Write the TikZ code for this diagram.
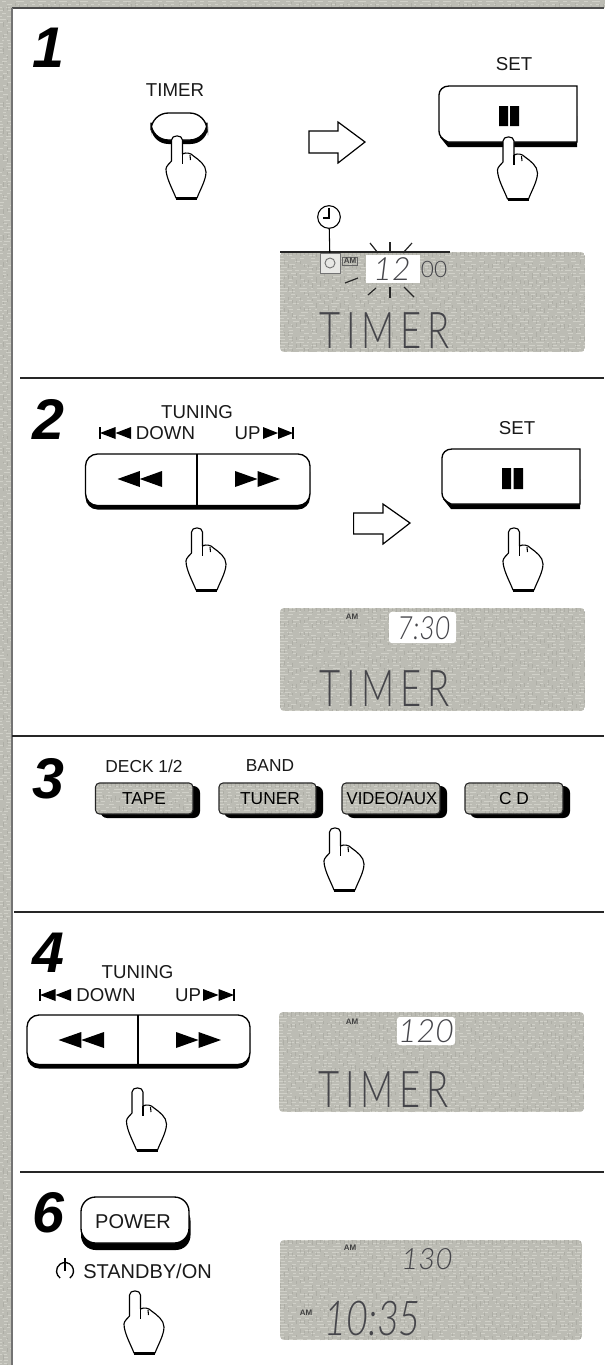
\documentclass[tikz,border=0pt]{standalone}
\usepackage{fontspec}
\setmainfont{Liberation Sans}
\newfontfamily\lcdfont{Lato Light}
\definecolor{paper}{HTML}{BCBCB4}
\definecolor{grain}{HTML}{E4E4DC}
\definecolor{grime}{HTML}{8E8E88}
\definecolor{lcdink}{HTML}{45454A}
\pgfmathsetseed{7}
\newcommand{\lcdword}{\scalebox{0.72}[1]{T\kern6pt I\kern6pt M\kern6pt E\kern6pt R}}
\tikzset{
  lbl/.style={inner sep=0pt,font=\fontsize{14}{14}\selectfont,text=black!90},
  stepnum/.style={inner sep=0pt,font=\fontsize{43}{43}\selectfont\bfseries\itshape},
  rule/.style={line width=0.9pt,black!85},
  btnface/.style={draw=black,fill=white,line width=1pt},
  tri/.style={fill=black,draw=none},
  bigarrow/.style={draw=black,fill=white,line width=0.9pt,line join=miter},
  ray/.style={line width=0.9pt,black!85},
  lcdtxt/.style={inner sep=0pt,text=lcdink},
  amtxt/.style={inner sep=0pt,text=black!75,font=\fontsize{6}{6}\selectfont\bfseries},
  keytxt/.style={inner sep=0pt,font=\fontsize{13}{13}\selectfont,text=black},
  hand/.pic={
    \path[draw=black,fill=white,line width=0.85pt,line join=round]
      (-5.5,4) .. controls (-5.5,-1.5) and (5.5,-1.5) .. (5.5,4)
      -- (5.5,18) .. controls (9,16) and (14,17) .. (16.5,20)
      .. controls (22,24) and (29,29) .. (29,36)
      .. controls (29,44) and (23,54) .. (20,62)
      -- (-1,62) .. controls (-4,54) and (-11,42) .. (-11,33)
      .. controls (-11,30) and (-7,27) .. (-5.5,25) -- cycle;
    \draw[line width=0.8pt] (5.5,18) -- (5.5,28);
    \draw[line width=0.8pt] (13,19) -- (13.5,24);
    \draw[line width=2pt] (-1,62.3) -- (20,62.3);
  }
}
\newcommand{\texturebox}[4]{%
  \begin{scope}
    \clip[rounded corners=3] (#1,#2) rectangle (#3,#4);
    \fill[paper] (#1,#2) rectangle (#3,#4);
    \pgfmathtruncatemacro{\hh}{#4-#2}
    \pgfmathtruncatemacro{\ww}{#3-#1}
    \foreach \yy in {0,3,...,\hh} {
      \pgfmathsetmacro{\da}{1+random(5)}
      \pgfmathsetmacro{\db}{1+random(4)}
      \pgfmathsetmacro{\dc}{1+random(3)}
      \pgfmathsetmacro{\dd}{1+random(7)}
      \draw[grain,opacity=.5,line width=0.7pt,dash pattern=on \da pt off \db pt on \dc pt off \dd pt] (#1,#2+\yy) -- (#3,#2+\yy);
    }
    \foreach \xx in {0,4,...,\ww} {
      \pgfmathsetmacro{\da}{1+random(3)}
      \pgfmathsetmacro{\db}{2+random(6)}
      \pgfmathsetmacro{\dc}{1+random(2)}
      \pgfmathsetmacro{\dd}{3+random(7)}
      \draw[grime,opacity=.3,line width=0.6pt,dash pattern=on \da pt off \db pt on \dc pt off \dd pt] (#1+\xx,#2) -- (#1+\xx,#4);
    }
  \end{scope}
}
\newcommand{\backtri}[4]{%
  \pgfmathsetmacro{\xm}{(#1+#2)/2}
  \fill[tri] (#1,{(#3+#4)/2}) -- (\xm,#3) -- (\xm,#4) -- cycle;
  \fill[tri] (\xm,{(#3+#4)/2}) -- (#2,#3) -- (#2,#4) -- cycle;
}
\newcommand{\fwdtri}[4]{%
  \pgfmathsetmacro{\xm}{(#1+#2)/2}
  \fill[tri] (#1,#3) -- (\xm,{(#3+#4)/2}) -- (#1,#4) -- cycle;
  \fill[tri] (\xm,#3) -- (#2,{(#3+#4)/2}) -- (\xm,#4) -- cycle;
}
\newcommand{\seekleft}[3]{%
  \draw[line width=1.1pt] (#1,#2-6) -- (#1,#2+6);
  \backtri{#1}{#1+#3}{#2-6}{#2+6}
}
\newcommand{\seekright}[3]{%
  \fwdtri{#1}{#1+#3}{#2-6}{#2+6}
  \draw[line width=1.1pt] (#1+#3,#2-6) -- (#1+#3,#2+6);
}
\newcommand{\tuningbtn}[5]{%
  \fill[black,rounded corners=9] (#1,#2+6) rectangle (#3,#4+1.5);
  \draw[btnface,rounded corners=9] (#1,#2) rectangle (#3,#4-2.5);
  \draw[line width=1.6pt] (#5,#2) -- (#5,#4);
}
\newcommand{\setbtn}[4]{%
  \fill[black] (#1+7,#2+30) -- (#3,#2+30) -- (#3,#4) -- (#1+9,#4) -- (#1+1,#4-10) -- cycle;
  \draw[btnface] (#3,#4-5) -- (#1+9,#4-5) .. controls (#1+3,#4-8) and (#1,#4-11) .. (#1,#4-16)
    -- (#1,#2+9) .. controls (#1,#2+4) and (#1+4,#2) .. (#1+10,#2) -- (#3,#2) -- cycle;
}
\newcommand{\sourcebtn}[7]{%
  \fill[black,rounded corners=5] (#2+5,#3+3) rectangle (#4,#5);
  \texturebox{#2}{#3}{#4-7}{#5-4}
  \draw[line width=0.8pt,black!85,rounded corners=3] (#2,#3) rectangle (#4-7,#5-4);
  \node[keytxt] (#1) at (#7,{(#3+#5)/2-2}) {#6};
}
\begin{document}
\begin{tikzpicture}[x=0.75pt,y=-0.75pt]
\useasboundingbox (0,0) rectangle (604,1365);
\fill[white] (0,0) rectangle (604,1365);
% scanned edges
\texturebox{-5}{-5}{610}{8}
\texturebox{-5}{-5}{12}{1370}
\draw[black!70,line width=0.8pt] (12,8) -- (604,8);
\draw[black!55,line width=0.8pt] (12,8) -- (12,1365);

% ---------- step 1
\node[stepnum] (n1) at (48,48) {1};
\node[lbl] (timerlbl) at (175,90) {TIMER};
\fill[black,rounded corners=13] (151,118) rectangle (208,144);
\draw[btnface,rounded corners=13] (151,113) rectangle (207,140);
\pic at (177,136) {hand};
\draw[bigarrow] (309,131) -- (338,131) -- (338,122) -- (365,142) -- (338,163) -- (338,153) -- (309,153) -- cycle;
\node[lbl] (setlbl1) at (514,64) {SET};
\setbtn{439}{86}{577}{147}
\fill[black] (499,106) rectangle (508,126) (510,106) rectangle (519,126);
\pic at (508.5,137) {hand};
\texturebox{280}{252}{585}{352}
\draw[line width=0.9pt,black!85] (280,252) -- (450,252);
\node[draw=black!55,fill=white!65!paper,line width=0.5pt,minimum width=15pt,minimum height=15pt,inner sep=0pt] (clockicon) at (330,263) {};
\draw[black!55,line width=0.7pt] (clockicon.center) circle (5);
\node[circle,draw=black,fill=white,line width=0.8pt,minimum size=17pt,inner sep=0pt] (clockc) at (329,217) {};
\draw[line width=0.8pt] (329,208) -- (329,218) -- (323,218);
\draw[line width=0.8pt] (clockc) -- (clockicon);
\fill[white] (366,255) rectangle (420,283);
\node[lcdtxt,font=\lcdfont\fontsize{24}{24}\selectfont\itshape] (d1) at (392,269) {12};
\node[amtxt,draw=black!60,inner sep=1pt] (am1) at (350,261) {AM};
\node[lcdtxt,font=\lcdfont\fontsize{17}{17}\selectfont] (d1b) at (434,269) {00};
\foreach \a/\b/\c/\d in {390/242/390/253,370/243/378/253,412/243/403/253,390/287/390/298,376/288/368/295,404/287/414/297,345/283/358/278}
  \draw[ray] (\a,\b) -- (\c,\d);
\node[lcdtxt,font=\lcdfont\fontsize{38}{38}\selectfont] (t1) at (384.5,331) {\lcdword};

\draw[rule] (20,378) -- (604,378);

% ---------- step 2
\node[stepnum] (n2) at (48,419) {2};
\node[lbl] (tun2) at (197,412) {TUNING};
\seekleft{100}{433}{31}
\node[lbl] (down2) at (165.5,433) {DOWN};
\node[lbl] (up2) at (247.5,433) {UP};
\seekright{263}{433}{30}
\tuningbtn{85.5}{454}{310}{508}{197}
\backtri{117.5}{162}{471}{487}
\fwdtri{235}{280}{471}{487}
\pic at (197,528) {hand};
\draw[bigarrow] (353.6,513) -- (383,513) -- (383,504) -- (410,523) -- (383,544) -- (383,534) -- (353.6,534) -- cycle;
\node[lbl] (setlbl2) at (517,428) {SET};
\setbtn{442}{449}{580}{509}
\fill[black] (502,468) rectangle (511,489) (513.5,468) rectangle (523,489);
\pic at (514,528) {hand};
\texturebox{280}{608}{585}{711}
\fill[white,rounded corners=2] (389,612) rectangle (456,643);
\node[lcdtxt,font=\lcdfont\fontsize{24}{24}\selectfont\itshape] (d2) at (424,628) {\scalebox{0.84}[1]{7:30}};
\node[amtxt] (am2) at (352,617) {AM};
\node[lcdtxt,font=\lcdfont\fontsize{38}{38}\selectfont] (t2) at (384.5,689) {\lcdword};
\draw[rule] (12,736) -- (604,736);

% ---------- step 3
\node[stepnum] (n3) at (48,779) {3};
\node[lbl,font=\fontsize{13}{13}\selectfont] (deck) at (144,766) {DECK 1/2};
\node[lbl,font=\fontsize{13}{13}\selectfont] (band) at (270,766) {BAND};
\sourcebtn{tape}{95.5}{783}{200}{818}{TAPE}{144}
\sourcebtn{tuner}{219}{783}{323}{818}{TUNER}{270}
\sourcebtn{video}{342}{783}{447}{818}{\scalebox{0.96}[1]{VIDEO/AUX}}{392}
\sourcebtn{cd}{465}{783}{570}{818}{C D}{514}
\pic at (335,828) {hand};
\draw[rule] (14,912) -- (604,912);

% ---------- step 4
\node[stepnum] (n4) at (48,953) {4};
\node[lbl] (tun4) at (137.5,972) {TUNING};
\seekleft{40}{995}{31}
\node[lbl] (down4) at (106,995) {DOWN};
\node[lbl] (up4) at (188,995) {UP};
\seekright{203}{995}{31}
\tuningbtn{27}{1015}{250}{1067}{138}
\backtri{58.5}{104}{1032}{1048}
\fwdtri{176}{221}{1032}{1048}
\pic at (137.5,1088) {hand};
\texturebox{279}{1012}{584}{1112}
\fill[white,rounded corners=2] (397,1017) rectangle (455,1045);
\node[lcdtxt,font=\lcdfont\fontsize{24}{24}\selectfont\itshape] (d4) at (426,1031) {120};
\node[amtxt] (am4) at (352,1022) {AM};
\node[lcdtxt,font=\lcdfont\fontsize{38}{38}\selectfont] (t4) at (383.5,1090) {\lcdword};
\draw[rule] (20,1172) -- (604,1172);

% ---------- step 6
\node[stepnum] (n6) at (48,1213) {6};
\fill[black,rounded corners=11] (81,1206) rectangle (190.5,1250);
\draw[btnface,rounded corners=11] (81,1197) rectangle (189,1243);
\node[lbl,font=\fontsize{15}{15}\selectfont] (power) at (133,1222) {POWER};
\draw[line width=1pt] (65,1271) ++(55:8.5) arc[start angle=55,end angle=-235,radius=8.5];
\draw[line width=1pt] (65,1258) -- (65,1271);
\node[lbl,anchor=west,font=\fontsize{15}{15}\selectfont] (standby) at (83,1271) {STANDBY/ON};
\pic at (135,1291) {hand};
\texturebox{280}{1240}{582}{1340}
\node[lcdtxt,font=\lcdfont\fontsize{22}{22}\selectfont\itshape] (d6) at (427,1259) {130};
\node[amtxt] (am6a) at (350,1248) {AM};
\node[amtxt] (am6b) at (306,1313) {AM};
\node[lcdtxt,font=\lcdfont\fontsize{36}{36}\selectfont\itshape] (t6) at (372.5,1319) {\scalebox{0.79}[1]{10:35}};
\end{tikzpicture}
\end{document}
